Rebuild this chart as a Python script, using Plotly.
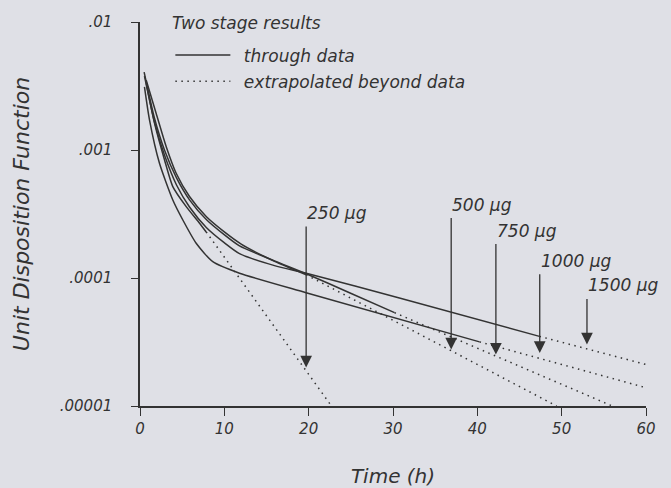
import numpy as np
import plotly.graph_objects as go

# ---------------- data ----------------
dose_labels = ["250 µg", "500 µg", "750 µg", "1000 µg", "1500 µg"]

# solid parts: "through data"
t_250 = [0.74, 1.72, 2.91, 3.89, 5.48, 7.06, 7.85]
u_250 = [3.31e-3, 1.62e-3, 8.36e-4, 5.18e-4, 3.61e-4, 2.68e-4, 2.29e-4]

t_500 = [0.74, 1.92, 3.11, 4.29, 5.87, 7.85, 10.0, 12.0, 15.95, 19.71]
u_500 = [3.51e-3, 1.93e-3, 1.06e-3, 6.58e-4, 4.33e-4, 3.02e-4, 2.29e-4, 1.84e-4, 1.35e-4, 1.06e-4]

t_750 = [0.49, 1.72, 2.90, 4.33, 5.87, 7.89, 10.02, 11.80, 15.95, 19.71, 24.84, 30.18]
u_750 = [4.06e-3, 1.77e-3, 1.0e-3, 6.05e-4, 4.08e-4, 2.85e-4, 2.17e-4, 1.78e-4, 1.36e-4, 1.08e-4, 7.67e-5, 5.36e-5]

t_1000 = [0.53, 1.13, 2.31, 3.89, 5.08, 6.66, 8.63, 11.8, 19.7, 40.26]
u_1000 = [3.11e-3, 1.71e-3, 7.87e-4, 4.07e-4, 2.84e-4, 1.87e-4, 1.34e-4, 1.09e-4, 7.67e-5, 3.17e-5]

t_1500 = [0.53, 1.72, 2.90, 4.33, 5.87, 7.89, 10.02, 11.80, 15.95, 19.71, 30.76, 47.37]
u_1500 = [3.78e-3, 1.65e-3, 9.14e-4, 5.33e-4, 3.59e-4, 2.47e-4, 1.88e-4, 1.55e-4, 1.25e-4, 1.09e-4, 6.98e-5, 3.50e-5]

# dotted parts: "extrapolated beyond data"
te_250 = [7.85, 22.7]
ue_250 = [2.29e-4, 1.0e-5]
te_500 = [19.71, 49.4]
ue_500 = [1.06e-4, 1.0e-5]
te_750 = [30.18, 56.0]
ue_750 = [5.36e-5, 1.0e-5]
te_1000 = [40.26, 60.0]
ue_1000 = [3.17e-5, 1.39e-5]
te_1500 = [47.37, 60.0]
ue_1500 = [3.50e-5, 2.11e-5]

# arrows
arrow_t = [19.7, 36.9, 42.2, 47.4, 53.0]
arrow_tip = [2.0e-5, 2.76e-5, 2.52e-5, 2.6e-5, 3.02e-5]
arrow_top = [2.6e-4, 3.02e-4, 1.89e-4, 1.10e-4, 7.05e-5]

x_ticks = [0, 10, 20, 30, 40, 50, 60]
y_ticks = [1e-5, 1e-4, 1e-3, 1e-2]
y_ticktext = [".00001", ".0001", ".001", ".01"]

legend_title = "Two stage results"
legend_solid = "through data"
legend_dotted = "extrapolated beyond data"

# ---------------- styling ----------------
BG = "#dfe0e6"
INK = "#333333"
FONT = "DejaVu Sans"
GAP = "\u2002"
PLOT_H = 488 - 22 - 82


def f(size):
    return dict(family=FONT, size=size, color=INK, style="italic")


solid_sets = [(t_250, u_250), (t_500, u_500), (t_750, u_750), (t_1000, u_1000), (t_1500, u_1500)]
ext_sets = [(te_250, ue_250), (te_500, ue_500), (te_750, ue_750), (te_1000, ue_1000), (te_1500, ue_1500)]

fig = go.Figure()
for i, (t, u) in enumerate(solid_sets):
    fig.add_trace(go.Scatter(
        x=t, y=u, mode="lines", name=GAP + legend_solid,
        line=dict(color=INK, width=1.5, shape="spline", smoothing=0.6),
        showlegend=(i == 0), legendgroup="a", hoverinfo="skip"))
for i, (t, u) in enumerate(ext_sets):
    fig.add_trace(go.Scatter(
        x=t, y=u, mode="lines", name=GAP + legend_dotted,
        line=dict(color=INK, width=1.5, dash="1.5px,4.5px"),
        showlegend=(i == 0), legendgroup="b", hoverinfo="skip"))

annotations = []
for lab, t, tip, top in zip(dose_labels, arrow_t, arrow_tip, arrow_top):
    annotations.append(dict(
        x=t, y=np.log10(tip), ax=t, ay=np.log10(top), xref="x", yref="y",
        axref="x", ayref="y", text="", showarrow=True, arrowhead=2,
        arrowsize=1.8, arrowwidth=1.3, arrowcolor=INK, standoff=0))
    annotations.append(dict(
        x=t, y=np.log10(top), xref="x", yref="y", text=lab, showarrow=False,
        xanchor="left", yanchor="middle", yshift=12, xshift=-1, font=f(17)))

annotations.append(dict(
    x=0.06, y=1 + (22 - 23) / PLOT_H, xref="paper", yref="paper", text=legend_title,
    showarrow=False, xanchor="left", yanchor="middle", font=f(17)))

fig.update_layout(
    width=671, height=488,
    margin=dict(l=140, r=25, t=22, b=82, autoexpand=False),
    paper_bgcolor=BG, plot_bgcolor=BG,
    font=f(15),
    showlegend=True,
    legend=dict(
        x=0.06, y=1 - (37.5 - 22) / PLOT_H, xanchor="left", yanchor="top",
        bgcolor="rgba(0,0,0,0)", borderwidth=0, font=f(17),
        traceorder="grouped", tracegroupgap=1, itemwidth=55),
    annotations=annotations,
    xaxis=dict(
        range=[0, 60], tickvals=x_ticks, ticks="outside", ticklen=8, tickwidth=1.4,
        tickcolor=INK, showline=True, linecolor=INK, linewidth=1.5, showgrid=False,
        zeroline=False, tickfont=f(15), automargin=False,
        title=dict(text="Time (h)", standoff=32, font=f(20))),
    yaxis=dict(
        type="log", range=[-5, -2], tickvals=y_ticks, ticktext=y_ticktext,
        ticks="outside", ticklen=7, tickwidth=1.4, tickcolor=INK, showline=True,
        linecolor=INK, linewidth=1.5, showgrid=False, zeroline=False,
        ticklabelstandoff=16, tickfont=f(15), automargin=False,
        title=dict(text="\u00a0\u00a0\u00a0Unit Disposition Function", standoff=24, font=f(22))),
)

fig.write_html("out.html")
